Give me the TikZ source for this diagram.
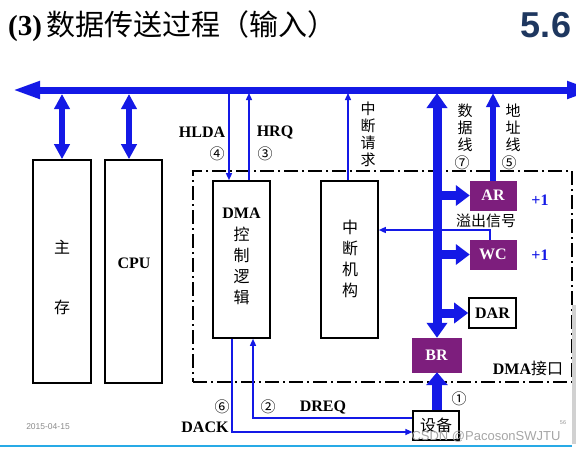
\documentclass[tikz,border=0pt]{standalone}
\usepackage{fontspec}
\setmainfont{Liberation Serif}
\newfontfamily\cjk{Noto Sans CJK SC}
\newfontfamily\arialf{Liberation Sans}
\usetikzlibrary{arrows.meta}
\definecolor{busblue}{RGB}{20,25,230}
\definecolor{regpurple}{RGB}{125,30,125}
\definecolor{navy}{RGB}{30,55,95}
\begin{document}
\begin{tikzpicture}[x=1pt,y=-1pt,
  box/.style={draw=black, line width=1.6pt, fill=white, inner sep=0pt},
  reg/.style={draw=regpurple, fill=regpurple, text=white, font=\bfseries\fontsize{16}{16}\selectfont, inner sep=0pt},
  lbl/.style={font=\bfseries\fontsize{16}{16}\selectfont, inner sep=0pt},
  cn/.style={font=\cjk\fontsize{15}{17}\selectfont, inner sep=0pt, align=center},
  circ/.style={font=\cjk\fontsize{15}{15}\selectfont, inner sep=0pt},
  thinarr/.style={draw=busblue, line width=1.4pt, -{Triangle[length=7pt,width=6pt]}},
  dblarr/.style={draw=busblue, line width=6pt, {Triangle[length=15pt,width=15pt]}-{Triangle[length=15pt,width=15pt]}},
  fatarr/.style={draw=busblue, line width=9pt, -{Triangle[length=14pt,width=20pt]}},
  dataarr/.style={draw=busblue, line width=9pt, {Triangle[length=15pt,width=20pt]}-{Triangle[length=15pt,width=20pt]}},
  addrarr/.style={draw=busblue, line width=6.5pt, -{Triangle[length=14pt,width=13pt]}},
  ifbox/.style={draw=black, line width=1.8pt, dash pattern=on 14pt off 4pt on 2pt off 4pt, inner sep=0pt}
]
\useasboundingbox (0,0) rectangle (576,451);
\fill[white] (0,0) rectangle (576,451);

% title
\node[anchor=west, inner sep=0pt] (title) at (8,26) {\fontsize{29}{29}\selectfont\bfseries (3)\hspace{4pt}\cjk\mdseries 数据传送过程（输入）};
\node[inner sep=0pt, text=navy] (secno) at (546,25) {\arialf\bfseries\fontsize{36}{36}\selectfont 5.6};

% interface dashed box
\node[ifbox, minimum width=379pt, minimum height=211pt] (iface) at (382.5,276.5) {};

% boxes
\node[box, minimum width=58pt, minimum height=223pt] (mem) at (62,271.5) {};
\node[box, minimum width=57pt, minimum height=223pt] (cpu) at (133.5,271.5) {};
\node[box, minimum width=57pt, minimum height=157pt] (dma) at (241.5,259.5) {};
\node[box, minimum width=57pt, minimum height=157pt] (intr) at (349.5,259.5) {};
\node[reg, minimum width=46pt, minimum height=29pt] (ar) at (493,195.5) {AR};
\node[reg, minimum width=46pt, minimum height=29pt] (wc) at (493,254.5) {WC};
\node[box, minimum width=47pt, minimum height=30pt, font=\bfseries\fontsize{16}{16}\selectfont] (dar) at (492.5,313) {DAR};
\node[reg, minimum width=49pt, minimum height=34pt] (br) at (436.5,355) {BR};
\node[box, line width=1.2pt, minimum width=46pt, minimum height=29pt, font=\cjk\fontsize{16}{16}\selectfont] (dev) at (436,425.5) {设备};

% box texts
\node[cn, font=\cjk\fontsize{16}{16}\selectfont] (zhu) at (62,247) {主};
\node[cn, font=\cjk\fontsize{16}{16}\selectfont] (cun) at (62,307) {存};
\node[lbl] (cputxt) at (134,263) {CPU};
\node[lbl] (dmatxt) at (241.5,213) {DMA};
\node[cn, font=\cjk\fontsize{16}{21}\selectfont] (dmacn) at (241.5,266) {控\\制\\逻\\辑};
\node[cn, font=\cjk\fontsize{16}{21}\selectfont] (intcn) at (350,258.5) {中\\断\\机\\构};

% bus taps
\coordinate (bus1) at (62,94);
\coordinate (bus2) at (129,94);
\coordinate (bus3) at (229,93);
\coordinate (bus4) at (249,93);
\coordinate (bus5) at (348,93);
\coordinate (bus6) at (437,93);
\coordinate (bus7) at (493,93);
\coordinate (busL) at (12,90);
\coordinate (busR) at (595,90);

% thin control lines
\draw[thinarr] (bus3) -- (dma.north -| bus3);
\draw[thinarr] (dma.north -| bus4) -- (bus4);
\draw[thinarr] (intr.north -| bus5) -- (bus5);
\coordinate (ovf) at (490,230);
\draw[thinarr] (wc.north -| ovf) -- (ovf) -- (intr.east |- ovf);
\coordinate (dreqc) at (253,418);
\draw[thinarr] (dev.west |- dreqc) -- (dreqc) -- (dma.south -| dreqc);
\coordinate (dackc) at (232,432);
\draw[thinarr] (dma.south -| dackc) -- (dackc) -- (dev.west |- dackc);

% bus
\begin{scope}
\clip (0,0) rectangle (576,451);
\draw[draw=busblue, line width=7pt, {Triangle[length=28pt,width=16pt]}-{Triangle[length=28pt,width=16pt]}] (busL) -- (busR);
\end{scope}

% thick arrows
\draw[dblarr] (bus1) -- (mem.north -| bus1);
\draw[dblarr] (bus2) -- (cpu.north -| bus2);
\draw[dataarr] (bus6) -- (br.north -| bus6);
\draw[fatarr] (437,195.5) -- (ar.west);
\draw[fatarr] (437,254.5) -- (wc.west);
\draw[fatarr] (437,313) -- (dar.west);
\draw[addrarr] (ar.north) -- (bus7);
\draw[draw=busblue, line width=10pt, -{Triangle[length=13pt,width=21pt]}] (dev.north -| bus6) -- (br.south -| bus6);

% labels
\node[lbl] (hlda) at (202,132) {HLDA};
\node[lbl] (hrq) at (275,132) {HRQ};
\node[circ] (c4) at (217,154) {④};
\node[circ] (c3) at (265,154) {③};
\node[cn] (zdqq) at (368,134) {中\\断\\请\\求};
\node[cn] (sjx) at (465,128) {数\\据\\线};
\node[cn] (dzx) at (513,128) {地\\址\\线};
\node[circ] (c7) at (462,163) {⑦};
\node[circ] (c5) at (509,163) {⑤};
\node[lbl, text=busblue] (p1a) at (540,200) {+1};
\node[lbl, text=busblue] (p1b) at (540,255) {+1};
\node[cn] (ycxh) at (486,221) {溢出信号};
\node[inner sep=0pt] (dmajk) at (528,368) {\bfseries\fontsize{16}{16}\selectfont DMA\cjk\mdseries 接口};
\node[circ] (c6) at (222,407) {⑥};
\node[circ] (c2) at (268,407) {②};
\node[lbl] (dreq) at (323,407) {DREQ};
\node[lbl] (dack) at (205,427) {DACK};
\node[circ] (c1) at (459,399) {①};

% slide artefacts
\node[inner sep=0pt, text=black!45] (date) at (48,427) {\arialf\fontsize{8.5}{8.5}\selectfont 2015-04-15};
\node[inner sep=0pt, text=black!40] (pg) at (563,423) {\arialf\fontsize{5.5}{5.5}\selectfont 56};
\node[inner sep=0pt, text=black!35] (wm) at (486,437) {\arialf\fontsize{13}{13}\selectfont CSDN @PacosonSWJTU};
\fill[black!18] (572,305) rectangle (576,444);
\draw[draw={rgb,255:red,40;green,170;blue,230}, line width=1.5pt] (0,446) -- (572,446);
\end{tikzpicture}
\end{document}
